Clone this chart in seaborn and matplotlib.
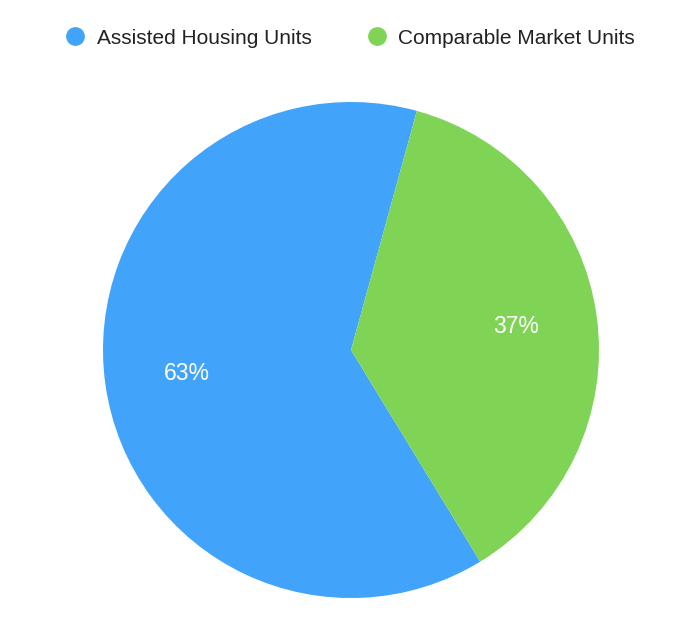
import matplotlib
matplotlib.use("Agg")
import matplotlib.pyplot as plt
from matplotlib.lines import Line2D
import seaborn as sns

categories = ["Assisted Housing Units", "Comparable Market Units"]
shares = [63, 37]
colors = ["#41A3F9", "#80D455"]


def main() -> None:
    sns.set_theme(style="white")
    plt.rcParams["font.family"] = ["Liberation Sans", "DejaVu Sans"]

    fig = plt.figure(figsize=(7.0, 6.35), dpi=100)
    ax = fig.add_axes([103 / 700, 37 / 635, 496 / 700, 496 / 635])
    wedges, texts, autotexts = ax.pie(
        shares,
        colors=colors,
        startangle=74.6,
        counterclock=True,
        autopct="%d%%",
        pctdistance=0.67,
        wedgeprops={"linewidth": 0},
        textprops={"color": "white", "fontsize": 16.5},
    )
    ax.set_xlim(-1, 1)
    ax.set_ylim(-1, 1)
    ax.set_aspect("equal")
    ax.axis("off")

    handles = [
        Line2D([0], [0], marker="o", linestyle="", markersize=12.5,
               markerfacecolor=c, markeredgecolor=c)
        for c in colors
    ]
    fig.legend(handles, categories, loc="center", bbox_to_anchor=(0.5, 1 - 38 / 635),
               ncol=2, frameon=False, fontsize=15, handlelength=1.0,
               handletextpad=0.55, columnspacing=2.6, labelcolor="#222222")

    fig.savefig("out.png", dpi=100, facecolor="white")
    plt.close(fig)


if __name__ == "__main__":
    main()
